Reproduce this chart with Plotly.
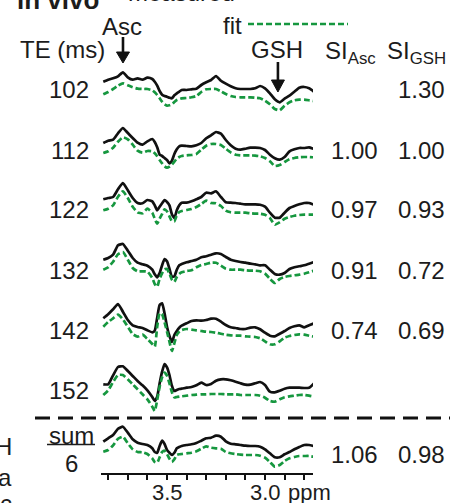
import plotly.graph_objects as go

# ---------------- data ----------------
ppm = [3.825, 3.800, 3.775, 3.750, 3.725, 3.700, 3.675, 3.650, 3.625, 3.600,
       3.575, 3.5625, 3.550, 3.5375, 3.525, 3.5125, 3.500, 3.4875, 3.475, 3.4625, 3.450, 3.4375, 3.425,
       3.400, 3.375, 3.350, 3.325, 3.300, 3.275, 3.250, 3.225, 3.200, 3.175, 3.150, 3.125, 3.100,
       3.075, 3.050, 3.025, 3.000, 2.975, 2.950, 2.925, 2.900, 2.875, 2.850, 2.825, 2.800, 2.775, 2.750]

te_labels = ["102", "112", "122", "132", "142", "152"]

meas_102 = [8.3, 10.3, 11.7, 13.7, 17.7, 12.7, 10.3, 11.7, 10.3, 12.3,
            11, 8.3, 4.3, -1, -4.7, -6, -6.7, -7.7, -8.3, -5.3, -3.3, -1.7, 0,
            0, 0.7, 1.3, 5, 7.7, 10, 14, 9.3, 6.3, 3.7, 1.7, 1, 1, 1, 1.7, 4, 1.7, -3.3, -9.3, -12.3,
            -8.7, -5.7, -1.7, 2.3, 3, 1.7, -1.7]
fit_102 = [-4.3, -2, 1, 4.3, 6.7, 4.7, 2.7, 1.3, 1, 1,
           -0.3, -2.3, -5, -8.3, -11.7, -14.3, -15.7, -15.3, -14.3, -12, -10, -9, -8.3,
           -8, -7.3, -6, -2, 0.7, 1, 1, -1.3, -4, -6, -7, -7.3, -7.3, -7.3, -7.7, -8.3, -10.7, -14.3,
           -19, -20.3, -15.7, -12.3, -10.3, -9.7, -9.7, -10.3, -11]

meas_112 = [7, 9.3, 10.3, 16.7, 22, 17, 12, 7.3, 5.3, 8.7,
            11, 8, 2.7, -4.7, -6, -8, -10, -13.3, -10.7, -4, 0.7, 3.7, 4.3,
            4, 3.7, 4.7, 7, 11.7, 14.7, 18, 16.3, 10, 4.7, 1.3, 0.3, 1.3, 2.3, 2.3, 2, 0, -4.7, -8.3,
            -9.7, -7, -1.3, 0.7, 2, 2, 2.7, 1]
fit_112 = [-3, -1.3, 2.3, 8.3, 12.7, 10.7, 5.3, -0.7, -2.7, -1,
           -1.3, -3.3, -6.3, -10, -13.3, -16.3, -17.7, -16.7, -14.7, -11.7, -8.7, -7, -6,
           -5.3, -5, -4, 0.3, 4.3, 6, 6, 5, 1.3, -2.3, -4.7, -5.3, -5.3, -5.3, -5.7, -6.3, -8, -11.3,
           -16, -15, -12, -9.3, -8, -7.3, -7, -7, -7.3]

meas_122 = [10.7, 12, 13, 20.7, 27, 19.7, 12, 7, 6.7, 10,
            8.7, 4.7, -0.3, 3.3, 6.7, 10, 8, 4.7, -4.3, -8, -0.3, 4.7, 7.3,
            7.3, 8.7, 10.7, 13, 17.3, 16.7, 18.7, 13, 7.7, 7.3, 7, 6.3, 5.7, 5.7, 5.7, 5.3, 3.3, -2.7,
            -7.7, -7.7, -2.7, 2, 4, 5.7, 7, 7, 5.3]
fit_122 = [-0.3, 1.3, 4.7, 13.3, 18.7, 12, 3.3, -2.3, -3.3, 1.3,
           -2.7, -8.7, -13.7, -8.7, -4, 0.7, -1.3, -6.3, -11.3, -11.3, -5.3, -2, -1,
           0, 1, 3, 6, 9.3, 7, 6.7, 4, -0.7, -2.3, -2.7, -2.7, -2.7, -3.3, -3.7, -3.7, -4.7, -8,
           -14.7, -12.3, -8.7, -7, -5.7, -5, -4.7, -4.7, -4.7]

meas_132 = [10.3, 12, 15.3, 24.7, 26, 19.3, 12, 7.3, 5.7, 4.3,
            0.3, -4.3, -7.3, -3, 4.7, 11, 8.7, 1.3, -6.7, -6.3, 0.3, 4.7, 6,
            7.7, 9, 10.3, 12.7, 13.7, 15.3, 16.7, 16, 13, 10.3, 9, 8, 7.3, 6.3, 5.7, 4.7, 4.7, 0.3,
            -4, -4.7, -3, 1, 2.7, 3.7, 4.7, 6.3, 8]
fit_132 = [0.3, 2.7, 8.3, 15.7, 18, 10.3, 2, -1.3, -1.3, -1.7,
           -8, -14, -16.7, -8.7, -3.3, 0.7, 1, -3.7, -9.7, -12, -7, -4, -2.3,
           -1, -0.3, 2.7, 5, 6, 7.3, 7.3, 4.3, 1.3, 0.3, 0.3, 0.3, -0.3, -0.7, -0.7, -1.3, -3.7, -8.7,
           -13, -9, -7, -6, -5.3, -4.7, -3.7, -2.3, -0.7]

meas_142 = [11.7, 15.7, 20.7, 26, 18.3, 10, 4.7, 3, 2, -0.3,
            -2.3, -0.7, 12.3, 25, 26.7, 16.7, 3.3, -6, -12, -5, -1, 2.3, 4.3,
            6.7, 9, 9.7, 9.3, 10, 11.3, 11.3, 8.3, 5, 2.7, 2, 1, 1, 2.3, 2.7, 0.7, -2.7, -5.7,
            -6.3, -3.7, -1, 2, 3.7, 4.7, 2.7, 4.7, 6.7]
fit_142 = [3.3, 8, 11.7, 15.3, 10.7, 3.3, -4, -6.7, -4.7, -9,
           -14, -16.7, 3.3, 17, 15.7, 7.7, -1.7, -11.7, -21, -13.3, -5, -1.7, 0,
           1, 0.3, -0.3, -1, -1.7, -2, -2.7, -3.7, -4.7, -5.3, -5.7, -5.7, -6.3, -6.7, -7, -8.3, -11.3,
           -14.3, -14.3, -11.3, -7.7, -6, -5, -4.3, -4.7, -5.7, -6.7]

meas_152 = [5.7, 5.7, 14.7, 23, 23.7, 19, 14, 9, 4.7, -0.3,
            -7, -11, -6.7, 6.7, 18.3, 26, 22.7, 15, 4.3, -1, 0, 1, 1.3,
            2.3, 3, 4.7, 7.3, 5, 6, 9.3, 10.7, 10.7, 9.7, 8.3, 6.7, 5.3, 5.3, 6.7, 8, 5, -1.7,
            -2.3, -0.7, 1.3, 2.3, 2.3, 2.3, 2, 2.3, 6.7]
fit_152 = [-5, -0.3, 8, 15, 15, 10.7, 5.7, 0.7, -4.3, -9.3,
           -16.7, -21, -10, 3.3, 12.7, 17.3, 14.3, 6.7, -2.3, -7.3, -7, -6.7, -6.3,
           -5.7, -5, -4.7, -4.3, -4.3, -4, -4, -4, -4.3, -4.3, -4.3, -5, -5, -5, -5, -5.7, -7.7,
           -11, -11.7, -9.3, -7.3, -6.3, -5.7, -5, -5, -5.7, -6.7]

meas_sum = [8.3, 11.7, 15, 21.3, 23.3, 17.3, 10.7, 7.3, 6, 5,
            1.7, -2, -2.7, 4, 9.3, 6, 0, -2.7, -5, -2.7, 1.7, 3, 4,
            5, 5.7, 7, 9.3, 11.7, 12.3, 14.3, 13.3, 8.7, 6.3, 5.7, 5, 4.3, 4, 4, 3.3, 0.7, -3.3,
            -7.3, -7.3, -4.3, -2, 0.7, 3, 5, 5, 4]
fit_sum = [-1.7, 0, 4.7, 11.3, 13.3, 6.7, 0.7, -2, -2.3, -4,
           -8.3, -12, -12.7, -7.3, -2, -0.7, -4, -8.7, -12, -9.3, -5, -4.3, -4,
           -3.3, -2.7, -1.3, 1.3, 3.7, 2.3, 1.7, 1.3, -2, -3.3, -4, -4.7, -5, -5, -5, -5.7, -7.7,
           -12, -16.7, -15, -11, -8.3, -7, -6, -6, -6, -6.7]

si_asc = [None, 1.00, 0.97, 0.91, 0.74, None]
si_gsh = [1.30, 1.00, 0.93, 0.72, 0.69, None]
si_asc_sum = 1.06
si_gsh_sum = 0.98

asc_ppm = 3.7245
gsh_ppm = 2.934

tick_vals = [3.8, 3.7, 3.6, 3.5, 3.4, 3.3, 3.2, 3.1, 3.0, 2.9, 2.8]
label_vals = [3.5, 3.0]
label_text = ["3.5", "3.0"]

# ---------------- figure ----------------
W, H = 463, 503
L, R, T, B = 101, 150, 0, 30
PW, PH = W - L - R, H - T - B
FONT = "Liberation Sans, Arial, sans-serif"
TXT = "#1c1c1c"
GREEN = "#16973f"
BLACK = "#111111"

meas_rows = [meas_102, meas_112, meas_122, meas_132, meas_142, meas_152]
fit_rows = [fit_102, fit_112, fit_122, fit_132, fit_142, fit_152]

ROW0, ROWSTEP, SUMROW = 90, 60, 450

fig = go.Figure()


def add_row(meas, fit, base):
    fig.add_trace(go.Scatter(x=ppm, y=[-base + v for v in meas], mode="lines",
                             line=dict(color=BLACK, width=2.7, shape="spline", smoothing=0.5),
                             hoverinfo="skip", showlegend=False))
    fig.add_trace(go.Scatter(x=ppm, y=[-base + v for v in fit], mode="lines",
                             line=dict(color=GREEN, width=2.7, dash="6px,3px", shape="spline", smoothing=0.5),
                             hoverinfo="skip", showlegend=False))


for i, (m, f) in enumerate(zip(meas_rows, fit_rows)):
    add_row(m, f, ROW0 + ROWSTEP * i)
add_row(meas_sum, fit_sum, SUMROW)


def px(x):
    return (x - L) / PW


def py(y):
    return 1 - (y - T) / PH


anns = []


def ann(text, x, y, size=24, xanchor="center", color=TXT, xref="paper"):
    anns.append(dict(text=text, x=px(x) if xref == "paper" else x, y=py(y), xref=xref, yref="paper",
                     xanchor=xanchor, yanchor="middle", showarrow=False,
                     font=dict(size=size, color=color, family=FONT)))


# header / titles
ann("<b>in vivo</b>", 15, 0, size=26, xanchor="left")
ann("measured", 126, -8, xanchor="left")
ann("fit", 221, 26, xanchor="left")
ann("Asc", 122, 27)
ann("TE (ms)", 18, 50, xanchor="left")
ann("GSH", 277, 50)
ann("SI<sub>Asc</sub>", 323, 52, xanchor="left")
ann("SI<sub>GSH</sub>", 385, 52, xanchor="left")

# row labels and SI values
for i, lab in enumerate(te_labels):
    yc = ROW0 + ROWSTEP * i
    ann(lab, 91, yc, xanchor="right")
    if si_asc[i] is not None:
        ann(f"{si_asc[i]:.2f}", 354, yc)
    if si_gsh[i] is not None:
        ann(f"{si_gsh[i]:.2f}", 421, yc)

ann("sum", 71, 435)
ann("6", 71, 463)
ann(f"{si_asc_sum:.2f}", 354, 454)
ann(f"{si_gsh_sum:.2f}", 421, 454)

# x tick labels
for v, t in zip(label_vals, label_text):
    ann(t, v, 492, size=22, xref="x")
ann("ppm", 286, 492, size=22, xanchor="left")

# remnants of the neighbouring panel on the left edge
ann("H", 14, 446, xanchor="right")
ann("a", 14, 477, xanchor="right")
ann("c", 14, 503, xanchor="right")

shapes = []
# legend line for fit
shapes.append(dict(type="line", xref="paper", yref="paper", x0=px(248), x1=px(348), y0=py(24), y1=py(24),
                   line=dict(color=GREEN, width=2.7, dash="6px,3px")))
# separator dashed line
shapes.append(dict(type="line", xref="paper", yref="paper", x0=px(35), x1=px(450), y0=py(418), y1=py(418),
                   line=dict(color=BLACK, width=3, dash="15px,8px")))
# sum underline
shapes.append(dict(type="line", xref="paper", yref="paper", x0=px(47), x1=px(95), y0=py(444.5), y1=py(444.5),
                   line=dict(color=TXT, width=1.6)))

# arrows (data coordinates)
hw = 6.5 / 196.0
for xp, y_top, y_head, y_tip in [(asc_ppm, -37, -52, -63), (gsh_ppm, -62, -80, -92)]:
    shapes.append(dict(type="line", xref="x", yref="y", x0=xp, x1=xp, y0=y_top, y1=y_head - 1,
                       line=dict(color=BLACK, width=2.6)))
    shapes.append(dict(type="path", xref="x", yref="y",
                       path=f"M {xp - hw},{y_head} L {xp + hw},{y_head} L {xp},{y_tip} Z",
                       fillcolor=BLACK, line=dict(color=BLACK, width=1)))

fig.update_layout(
    width=W, height=H,
    margin=dict(l=L, r=R, t=T, b=B, pad=0),
    paper_bgcolor="white", plot_bgcolor="white",
    showlegend=False,
    annotations=anns, shapes=shapes,
    xaxis=dict(range=[3.8367, 2.7551], showgrid=False, zeroline=False,
               showline=True, linecolor=BLACK, linewidth=1.5,
               ticks="outside", ticklen=5, tickwidth=1.5, tickcolor=BLACK,
               tickvals=tick_vals, showticklabels=False),
    yaxis=dict(range=[-PH, 0], visible=False, showgrid=False, zeroline=False),
)

fig.write_html("out.html", config={"displayModeBar": False},
               post_script="document.body.style.margin='0px';document.body.style.overflow='hidden';")
